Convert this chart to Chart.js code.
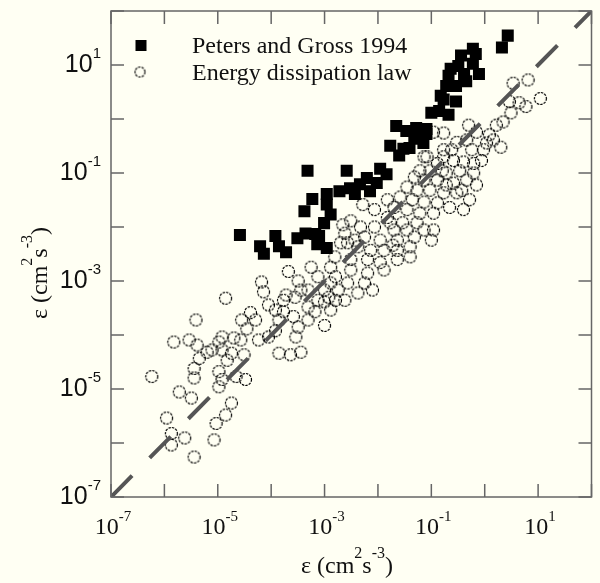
<!DOCTYPE html>
<html>
<head>
<meta charset="utf-8">
<script src="https://cdn.jsdelivr.net/npm/chart.js@4.4.0/dist/chart.umd.min.js"></script>
<style>
    html, body { margin: 0; padding: 0; background: #fffff3; }
</style>
</head>
<body>
<canvas id="chartEps" width="600" height="583"></canvas>
<script>
// eixos: décadas de 1e-7 a 1e2, rótulos só nas ímpares
const decades = [1e-7, 1e-6, 1e-5, 1e-4, 1e-3, 1e-2, 1e-1, 1, 1e1, 1e2];
const labelValues = [1e-7, 1e-5, 1e-3, 1e-1, 1e1];
const labelExps = ['-7', '-5', '-3', '-1', '1'];
const seriesNames = ['Peters and Gross 1994', 'Energy dissipation law'];
const lineEnds = [1e-7, 1e2];

// Peters and Gross 1994 (quadrados)
const petersX = [2.7, 2.1, 0.6, 0.68, 0.36, 0.6, 0.32, 0.41, 0.78, 0.21,
    0.19, 0.29, 0.17, 0.29, 0.1, 0.14, 0.21, 0.022, 0.052, 0.081,
    0.06, 0.081, 0.048, 0.017, 0.030, 0.025, 0.011, 0.0145, 0.0062, 0.0095,
    0.0046, 0.00048, 0.0026, 0.003, 0.0019, 0.0037, 0.0071, 0.0011, 0.00059, 0.0011,
    0.00042, 0.0013, 0.00098, 0.00067, 0.00044, 0.00031, 0.00079, 0.00073, 0.0011, 2.6e-5,
    6.2e-5, 7.3e-5, 1.2e-4, 1.4e-4, 1.9e-4, 0.034, 0.071, 0.039, 0.15, 0.23,
    0.45];
const petersY = [35, 21, 20, 16, 15, 10.5, 9.6, 6.8, 6.8, 6.3,
    4.1, 4.1, 2.3, 2.1, 1.3, 1.4, 1.2, 0.74, 0.68, 0.65,
    0.48, 0.53, 0.43, 0.32, 0.28, 0.21, 0.12, 0.095, 0.081, 0.065,
    0.062, 0.11, 0.11, 0.052, 0.046, 0.041, 0.046, 0.041, 0.033, 0.026,
    0.0195, 0.017, 0.0118, 0.0074, 0.0076, 0.0062, 0.0068, 0.0048, 0.0041, 0.0071,
    0.0044, 0.0032, 0.0068, 0.0044, 0.0034, 0.6, 0.36, 0.29, 2.7, 8.5,
    5.0];

// Energy dissipation law (círculos)
const lawX = [6.5, 3.4, 11, 2.9, 4.4, 5.9, 3.1, 2.2, 1.65, 0.50,
    0.70, 0.17, 0.30, 2.0, 1.08, 1.45, 0.46, 0.57, 0.95, 0.17,
    0.083, 0.13, 0.26, 0.40, 0.62, 0.061, 0.094, 0.19, 0.34, 0.46,
    0.62, 0.048, 0.073, 0.13, 0.26, 0.035, 0.054, 0.094, 0.17, 0.30,
    0.52, 0.026, 0.044, 0.073, 0.13, 0.22, 0.40, 0.020, 0.035, 0.061,
    0.11, 0.073, 0.17, 0.11, 0.10, 0.015, 0.0086, 0.015, 0.054, 0.0031,
    0.0047, 0.0086, 0.020, 0.035, 0.073, 0.0024, 0.0056, 0.011, 0.023, 0.048,
    0.040, 0.040, 0.023, 0.013, 0.0073, 0.0042, 0.0020, 0.00156, 0.0031, 0.0064,
    0.011, 0.023, 0.013, 0.0064, 0.0031, 0.0013, 0.00056, 0.00075, 0.0016, 0.0027,
    0.0056, 0.0018, 0.0010, 0.00049, 0.0042, 0.00021, 0.00032, 6.6e-5, 7.2e-5, 1.4e-5,
    0.00019, 0.00028, 0.0013, 0.0012, 0.0016, 0.00049, 0.00066, 0.0010, 0.0013, 0.0010,
    0.00049, 0.00032, 0.00026, 0.00017, 0.00012, 0.00014, 0.00029, 4.1e-5, 2.8e-5, 5.1e-5,
    3.5e-5, 2.0e-5, 1.2e-5, 2.7e-5, 5.8e-5, 8.9e-5, 0.00012, 1.2e-5, 1.8e-5, 0.00014,
    0.00023, 0.00036, 7.8e-6, 3.9e-6, 1.05e-5, 1.5e-6, 2.9e-6, 4.1e-6, 6.3e-6, 4.5e-6,
    1.5e-5, 3.1e-5, 5.8e-7, 3.6e-6, 3.6e-6, 1.05e-5, 1.2e-5, 2.2e-5, 3.3e-5, 1.05e-5,
    1.9e-6, 3.2e-6, 1.8e-5, 1.4e-5, 9.3e-6, 1.1e-6, 1.35e-6, 2.4e-6, 1.35e-6, 8.5e-6,
    3.6e-6, 0.11,
    0.0052, 0.0022, 0.0037, 0.017, 0.029, 0.19, 0.37, 0.70, 0.87, 1.22,
    0.24, 0.16, 0.019, 0.0079, 0.0024, 0.00075, 0.00036, 0.00017, 8.9e-5, 0.0027];
const lawY = [5.3, 4.6, 2.4, 2.1, 2.0, 1.7, 1.3, 0.88, 0.77, 0.77,
    0.57, 0.55, 0.37, 0.30, 0.36, 0.41, 0.41, 0.27, 0.27, 0.27,
    0.20, 0.15, 0.17, 0.16, 0.15, 0.11, 0.11, 0.10, 0.11, 0.074,
    0.10, 0.084, 0.074, 0.074, 0.065, 0.055, 0.048, 0.048, 0.043, 0.043,
    0.032, 0.036, 0.032, 0.029, 0.028, 0.023, 0.021, 0.023, 0.021, 0.018,
    0.018, 0.20, 0.20, 0.0088, 0.0057, 0.032, 0.021, 0.015, 0.012, 0.013,
    0.010, 0.010, 0.0088, 0.0088, 0.0088, 0.0077, 0.0065, 0.0057, 0.0057, 0.0065,
    0.0043, 0.0028, 0.0037, 0.0037, 0.0037, 0.0043, 0.0051, 0.0028, 0.0025, 0.0025,
    0.0022, 0.0025, 0.0016, 0.0014, 0.0016, 0.0018, 0.0018, 0.0012, 0.0012, 0.00092,
    0.00092, 0.00068, 0.00068, 0.00068, 0.00060, 0.0015, 0.0010, 0.00096, 0.00063, 0.00048,
    0.00055, 0.00050, 0.00092, 0.00050, 0.00044, 0.00033, 0.00027, 0.00041, 0.00029, 0.00015,
    0.00019, 0.00014, 0.00022, 0.00027, 0.00029, 0.00019, 9.2e-5, 0.00026, 0.00019, 0.00019,
    0.00013, 8.8e-5, 9.2e-5, 8.1e-5, 8.1e-5, 9.2e-5, 0.00012, 5.3e-5, 4.6e-5, 4.6e-5,
    4.3e-5, 4.8e-5, 5.3e-5, 0.00019, 7.4e-5, 7.4e-5, 8.1e-5, 6.5e-5, 4.8e-5, 3.7e-5,
    3.4e-5, 4.3e-5, 1.7e-5, 2.4e-5, 1.6e-5, 2.1e-5, 1.5e-5, 1.7e-5, 1.5e-5, 1.1e-5,
    8.8e-6, 6.8e-6, 5.5e-6, 3.3e-6, 2.3e-6, 2.9e-6, 1.5e-6, 1.24e-6, 9.2e-7, 1.14e-6,
    5.5e-7, 0.57,
    0.026, 0.011, 0.0057, 0.012, 0.012, 0.060, 0.048, 0.060, 0.17, 0.51,
    0.27, 0.11, 0.0046, 0.00068, 0.00044, 0.00044, 0.00068, 0.00044, 0.00036, 0.0051];

const BG = '#fffff3';
const AXIS = '#666';
const SERIF = '"Liberation Serif", "Times New Roman", serif';
const SANS = '"Liberation Sans", Arial, sans-serif';

// círculo tracejado usado como pointStyle
function ringImage(r) {
    const c = document.createElement('canvas');
    const s = Math.ceil(r * 2 + 3);
    c.width = s;
    c.height = s;
    const g = c.getContext('2d');
    g.strokeStyle = '#000';
    g.lineWidth = 1.2;
    g.setLineDash([2.4, 1.1]);
    g.beginPath();
    g.arc(s / 2, s / 2, r, 0, Math.PI * 2);
    g.stroke();
    return c;
}
const ring = ringImage(6);
const ringSmall = ringImage(5);

// desenha uma sequência de pedaços [texto, sobrescrito?] a partir de x
function piecesWidth(ctx, pieces, baseFont, supFont) {
    let w = 0;
    pieces.forEach(p => {
        ctx.font = p[1] ? supFont : baseFont;
        w += ctx.measureText(p[0]).width;
    });
    return w;
}
function drawPieces(ctx, pieces, x, y, baseFont, supFont, rise) {
    pieces.forEach(p => {
        ctx.font = p[1] ? supFont : baseFont;
        ctx.fillText(p[0], x, p[1] ? y - rise : y);
        x += ctx.measureText(p[0]).width;
    });
}

const bgPlugin = {
    id: 'bg',
    beforeDraw(chart) {
        const ctx = chart.ctx;
        ctx.save();
        ctx.fillStyle = BG;
        ctx.fillRect(0, 0, chart.width, chart.height);
        ctx.restore();
    }
};

const framePlugin = {
    id: 'frame',
    afterDraw(chart) {
        const ctx = chart.ctx;
        const a = chart.chartArea;
        const sx = chart.scales.x;
        const sy = chart.scales.y;
        ctx.save();
        ctx.strokeStyle = AXIS;
        ctx.lineWidth = 1.5;
        ctx.strokeRect(a.left, a.top, a.right - a.left, a.bottom - a.top);

        // ticks para dentro nos quatro lados
        ctx.beginPath();
        decades.forEach(v => {
            const px = sx.getPixelForValue(v);
            const py = sy.getPixelForValue(v);
            ctx.moveTo(px, a.bottom); ctx.lineTo(px, a.bottom - 13);
            ctx.moveTo(px, a.top); ctx.lineTo(px, a.top + 13);
            ctx.moveTo(a.left, py); ctx.lineTo(a.left + 13, py);
            ctx.moveTo(a.right, py); ctx.lineTo(a.right - 13, py);
        });
        ctx.stroke();

        ctx.fillStyle = '#111';
        ctx.textBaseline = 'alphabetic';
        ctx.textAlign = 'left';

        // rótulos do eixo x (serifa)
        const xBase = '24px ' + SERIF, xSup = '15px ' + SERIF;
        labelValues.forEach((v, i) => {
            const pieces = [['10', false], [labelExps[i], true]];
            const w = piecesWidth(ctx, pieces, xBase, xSup);
            const px = sx.getPixelForValue(v);
            drawPieces(ctx, pieces, px - w / 2 + 2, a.bottom + 37, xBase, xSup, 13);
        });

        // rótulos do eixo y (sem serifa)
        const yBase = '25px ' + SANS, ySup = '15px ' + SANS;
        labelValues.forEach((v, i) => {
            const pieces = [['10', false], [labelExps[i], true]];
            const w = piecesWidth(ctx, pieces, yBase, ySup);
            const py = sy.getPixelForValue(v);
            drawPieces(ctx, pieces, 101 - w, py + 7, yBase, ySup, 14);
        });

        // títulos dos eixos
        const tBase = '24px ' + SERIF, tSup = '16px ' + SERIF;
        const title = [['ε (cm', false], ['2', true], ['s', false], ['-3', true], [')', false]];
        const tw = piecesWidth(ctx, title, tBase, tSup);
        drawPieces(ctx, title, 347 - tw / 2, 573, tBase, tSup, 15);

        ctx.save();
        ctx.translate(47, 273);
        ctx.rotate(-Math.PI / 2);
        drawPieces(ctx, title, -tw / 2, 0, tBase, tSup, 15);
        ctx.restore();

        // legenda
        ctx.fillStyle = '#000';
        ctx.fillRect(135.5, 40, 11, 11);
        ctx.drawImage(ringSmall, 140 - ringSmall.width / 2, 72 - ringSmall.height / 2);
        ctx.fillStyle = '#111';
        ctx.font = '24px ' + SERIF;
        ctx.fillText(seriesNames[0], 192, 53);
        ctx.fillText(seriesNames[1], 192, 80);
        ctx.restore();
    }
};

const logAxis = {
    type: 'logarithmic',
    min: 1e-7,
    max: 1e2,
    ticks: { display: false },
    grid: { display: false },
    border: { display: false },
    afterBuildTicks: function(scale) {
        scale.ticks = decades.map(v => ({ value: v }));
    }
};

const ctxEps = document.getElementById('chartEps').getContext('2d');
const chartEps = new Chart(ctxEps, {
    type: 'scatter',
    data: {
        datasets: [{
            label: seriesNames[0],
            data: petersX.map((x, i) => ({ x: x, y: petersY[i] })),
            pointStyle: 'rect',
            pointRadius: 8.5,
            backgroundColor: '#000',
            borderWidth: 0,
            order: 1
        }, {
            label: seriesNames[1],
            data: lawX.map((x, i) => ({ x: x, y: lawY[i] })),
            pointStyle: ring,
            pointRadius: 6,
            borderWidth: 0,
            order: 2
        }, {
            type: 'line',
            label: '1:1',
            data: lineEnds.map(v => ({ x: v, y: v })),
            borderColor: '#555',
            borderWidth: 4,
            borderDash: [30, 25],
            pointRadius: 0,
            fill: false,
            order: 0
        }]
    },
    options: {
        responsive: false,
        animation: false,
        events: [],
        layout: { padding: { top: 11, right: 4, left: 0, bottom: 0 } },
        plugins: {
            legend: { display: false },
            tooltip: { enabled: false }
        },
        scales: {
            x: Object.assign({}, logAxis, { afterFit: s => { s.height = 86; } }),
            y: Object.assign({}, logAxis, { afterFit: s => { s.width = 111; } })
        }
    },
    plugins: [bgPlugin, framePlugin]
});
</script>
</body>
</html>
